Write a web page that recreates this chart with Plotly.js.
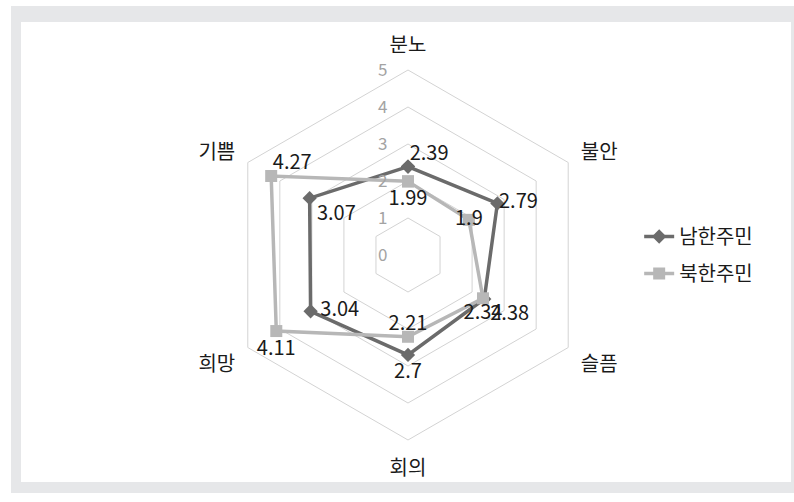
<!DOCTYPE html>
<html><head><meta charset="utf-8">
<script src="https://cdn.plot.ly/plotly-3.0.1.min.js"></script>
<style>html,body{margin:0;padding:0;background:#fff;}#chart{width:794px;height:502px;}</style>
</head><body><div id="chart"></div>
<script>
const categories = ['분노','불안','슬픔','회의','희망','기쁨'];
const southValues = [2.39, 2.79, 2.38, 2.7, 3.04, 3.07];
const northValues = [1.99, 1.9, 2.34, 2.21, 4.11, 4.27];
const seriesNames = ['남한주민','북한주민'];
const southTextPos = ['top right','middle right','bottom right','bottom center','middle right','bottom right'];
const northTextPos = ['bottom center','middle center','bottom center','top center','bottom center','top right'];
// label padding (invisible marker size that sets each label's offset)
const southLabelPad = [1, 1, 8, 11, 14, 10];
const northLabelPad = [12, 1, 8, 1, 12, 1];

const closeLoop = a => a.concat([a[0]]);
const txtFont = {family:'"Noto Sans CJK KR", "Noto Sans", sans-serif', size:20, color:'#1a1a1a'};

const traces = [
  {type:'scatterpolar', name:seriesNames[0], legendgroup:'s', r:closeLoop(southValues), theta:closeLoop(categories),
   mode:'lines+markers', line:{color:'#6b6b6b', width:3.5}, marker:{symbol:'diamond', size:11, color:'#6b6b6b'}, cliponaxis:false},
  {type:'scatterpolar', name:seriesNames[1], legendgroup:'n', r:closeLoop(northValues), theta:closeLoop(categories),
   mode:'lines+markers', line:{color:'#b7b7b7', width:3.5}, marker:{symbol:'square', size:12, color:'#b7b7b7'}, cliponaxis:false},
  {type:'scatterpolar', showlegend:false, r:southValues, theta:categories, mode:'markers+text',
   marker:{size:southLabelPad, opacity:0, color:'#000'},
   text:southValues.map(String), textposition:southTextPos, textfont:txtFont, cliponaxis:false, hoverinfo:'skip'},
  {type:'scatterpolar', showlegend:false, r:northValues, theta:categories, mode:'markers+text',
   marker:{size:northLabelPad, opacity:0, color:'#000'},
   text:northValues.map(String), textposition:northTextPos, textfont:txtFont, cliponaxis:false, hoverinfo:'skip'}
];

const W=794, T=70, B=62, H=502;
const px = x => x/W;
const py = y => (H-B-y)/(H-T-B);

const layout = {
  width:794, height:502,
  margin:{l:0,r:0,t:T,b:B},
  paper_bgcolor:'rgba(0,0,0,0)', plot_bgcolor:'rgba(0,0,0,0)',
  font:{family:'"Noto Sans CJK KR", "Noto Sans", sans-serif', size:18, color:'#1a1a1a'},
  showlegend:true,
  legend:{x:0.805, xanchor:'left', y:py(255), yanchor:'middle', font:{size:20, color:'#1a1a1a'},
    bgcolor:'rgba(0,0,0,0)', itemwidth:30, traceorder:'grouped', tracegroupgap:8},
  polar:{
    domain:{x:[(408-185)/W,(408+185)/W], y:[0,1]},
    bgcolor:'rgba(0,0,0,0)',
    gridshape:'linear',
    radialaxis:{range:[0,5], dtick:1, tick0:0, showline:false, gridcolor:'#d3d3d3', gridwidth:1,
      angle:90, side:'counterclockwise', tickangle:90, ticks:'outside', ticklen:14, tickcolor:'rgba(0,0,0,0)',
      tickfont:{size:17, color:'#a3a3a3'}},
    angularaxis:{direction:'clockwise', rotation:90, showgrid:false, showline:true, linecolor:'#d3d3d3', linewidth:1,
      ticks:'outside', ticklen:10, tickcolor:'rgba(0,0,0,0)', tickfont:{size:20, color:'#1a1a1a'}}
  },
  shapes:[
    {type:'rect', xref:'paper', yref:'paper', layer:'below', x0:px(11), x1:px(794), y0:py(493), y1:py(6), fillcolor:'#e6e7e9', line:{width:0}},
    {type:'rect', xref:'paper', yref:'paper', layer:'below', x0:px(21), x1:px(791), y0:py(482), y1:py(22), fillcolor:'#ffffff', line:{width:0}}
  ]
};

Plotly.newPlot('chart', traces, layout, {displayModeBar:false, staticPlot:true});
</script></body></html>
